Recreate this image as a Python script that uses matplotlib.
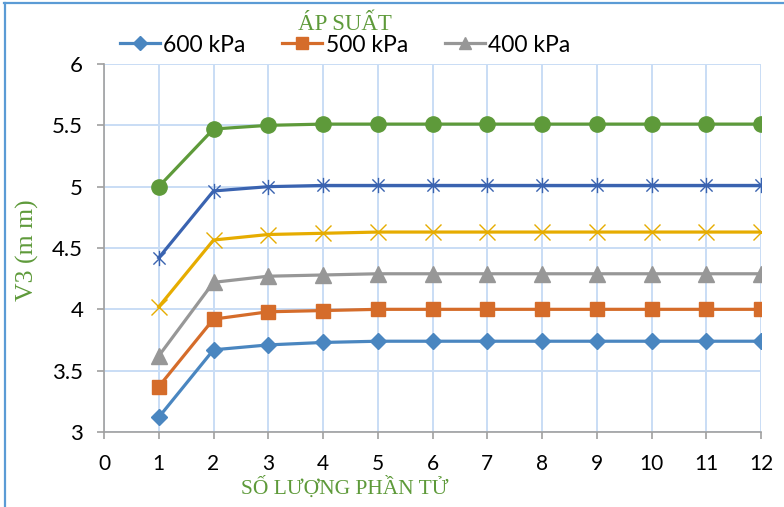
import numpy as np
import matplotlib
matplotlib.use("Agg")
import matplotlib.pyplot as plt
from matplotlib.path import Path
from matplotlib.lines import Line2D

# so phan tu
x_vals = list(range(1, 13))

# V3 (mm) cho tung ap suat
v_600 = [3.12, 3.67, 3.71, 3.73, 3.74, 3.74, 3.74, 3.74, 3.74, 3.74, 3.74, 3.74]
v_500 = [3.37, 3.92, 3.98, 3.99, 4.00, 4.00, 4.00, 4.00, 4.00, 4.00, 4.00, 4.00]
v_400 = [3.62, 4.22, 4.27, 4.28, 4.29, 4.29, 4.29, 4.29, 4.29, 4.29, 4.29, 4.29]
v_yel = [4.02, 4.565, 4.61, 4.62, 4.63, 4.63, 4.63, 4.63, 4.63, 4.63, 4.63, 4.63]
v_dbl = [4.42, 4.965, 5.00, 5.01, 5.01, 5.01, 5.01, 5.01, 5.01, 5.01, 5.01, 5.01]
v_grn = [5.00, 5.47, 5.50, 5.51, 5.51, 5.51, 5.51, 5.51, 5.51, 5.51, 5.51, 5.51]

legend_labels = ["600 kPa", "500 kPa", "400 kPa"]
x_ticks = list(range(0, 13))
y_ticks = [3, 3.5, 4, 4.5, 5, 5.5, 6]

# marker sao kieu excel: x + gach dung
star = Path([(-1, -1), (1, 1), (-1, 1), (1, -1), (0, -1.25), (0, 1.25)],
            [Path.MOVETO, Path.LINETO, Path.MOVETO, Path.LINETO, Path.MOVETO, Path.LINETO])

W, H = 784, 507
fig = plt.figure(figsize=(W / 100, H / 100), dpi=100)
ax = fig.add_axes([104 / W, 1 - 432 / H, (761 - 104) / W, (432 - 64) / H])

lw = 2.3
ax.plot(x_vals, v_600, color="#4a86c0", lw=lw, marker="D", ms=8.5, zorder=5, label=legend_labels[0])
ax.plot(x_vals, v_500, color="#d56c2a", lw=lw, marker="s", ms=10, zorder=5, label=legend_labels[1])
ax.plot(x_vals, v_400, color="#979797", lw=lw, marker="^", ms=11, zorder=5, label=legend_labels[2])
ax.plot(x_vals, v_yel, color="#e6ac00", lw=lw, marker="x", ms=11, mew=1.0, zorder=5)
ax.plot(x_vals, v_dbl, color="#3a63b0", lw=lw, marker=star, ms=11, mew=1.0, zorder=5)
ax.plot(x_vals, v_grn, color="#5e9a3a", lw=lw, marker="o", ms=11, zorder=5)

ax.set_xlim(0, 12)
ax.set_ylim(3, 6)
ax.set_xticks(x_ticks)
ax.set_yticks(y_ticks)
ax.set_yticklabels([f"{v:g}" for v in y_ticks], fontfamily="Lato", fontsize=16)
ax.set_xticklabels([str(v) for v in x_ticks], fontfamily="Lato", fontsize=15)
ax.grid(True, color="#c9ddf5", lw=1.4, zorder=0)
ax.set_axisbelow(True)
for s in ["top", "right"]:
    ax.spines[s].set_visible(False)
for s in ["left", "bottom"]:
    ax.spines[s].set_color("#a0a0a0")
    ax.spines[s].set_linewidth(1.2)
ax.tick_params(axis="both", color="#a0a0a0", length=5, width=1.2)
ax.tick_params(axis="x", pad=11)
ax.tick_params(axis="y", pad=10)

green = "#5e9a3a"
cx = 345 / W
fig.text(cx, 1 - 25 / H, "ÁP SUẤT", ha="center", va="center",
         fontfamily="Liberation Serif", fontsize=16.5, color=green)
fig.text(cx, 1 - 488 / H, "SỐ LƯỢNG PHẦN TỬ", ha="center", va="center",
         fontfamily="Liberation Serif", fontsize=15.5, color=green)
fig.text(27 / W, 1 - 250 / H, "V3 (m m)", ha="center", va="center", rotation=90,
         fontfamily="Liberation Serif", fontsize=18.5, color=green)

fig.legend(loc="center", bbox_to_anchor=(cx, 1 - 45 / H), ncol=3, frameon=False,
           prop={"family": "Lato", "size": 16.5},
           handlelength=1.75, handletextpad=0.15, columnspacing=1.6, borderpad=0,
           markerscale=0.85)

# khung vien
fig.add_artist(Line2D([4 / W, 1], [1 - 3 / H, 1 - 3 / H], color="#5b9bd5", lw=1.6))
fig.add_artist(Line2D([5 / W, 5 / W], [1 - 3 / H, 0], color="#5b9bd5", lw=1.6))

fig.savefig("out.png", dpi=100)
